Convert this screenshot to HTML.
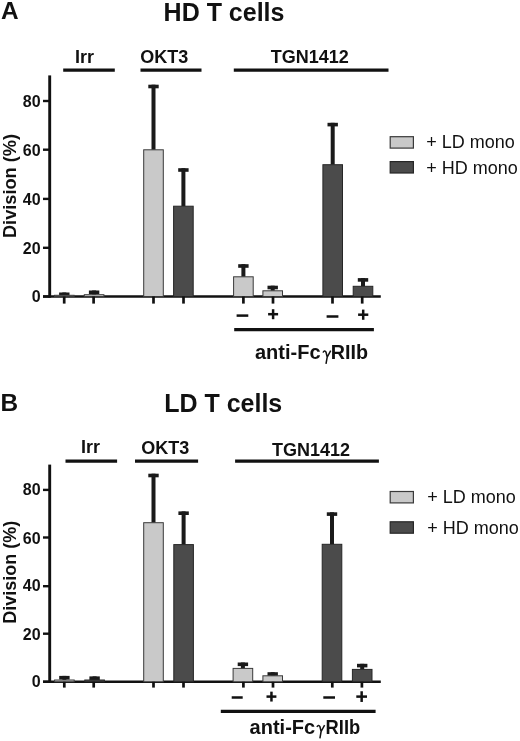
<!DOCTYPE html>
<html><head><meta charset="utf-8"><style>
html,body{margin:0;padding:0;background:#fff;width:520px;height:741px;overflow:hidden}
svg{display:block;filter:grayscale(1)}
text{font-family:"Liberation Sans",sans-serif;fill:#111}
</style></head><body>
<svg width="520" height="741" viewBox="0 0 520 741">
<text x="1" y="19.3" font-size="24.4" font-weight="bold" text-anchor="start" >A</text>
<text x="163.6" y="21.3" font-size="25" font-weight="bold" text-anchor="start" >HD T cells</text>
<text x="75.0" y="62.9" font-size="18" font-weight="bold" text-anchor="start" >Irr</text>
<text x="140.2" y="62.9" font-size="18" font-weight="bold" text-anchor="start" >OKT3</text>
<text x="270.8" y="63.2" font-size="18" font-weight="bold" text-anchor="start" >TGN1412</text>
<line x1="63.2" y1="70.2" x2="114.8" y2="70.2" stroke="#111" stroke-width="3.3"/>
<line x1="140.5" y1="70.2" x2="201.5" y2="70.2" stroke="#111" stroke-width="3.3"/>
<line x1="233.8" y1="70.2" x2="388.5" y2="70.2" stroke="#111" stroke-width="3.3"/>
<line x1="49.7" y1="75.4" x2="49.7" y2="297.7" stroke="#111" stroke-width="2.9"/>
<line x1="43" y1="296.5" x2="380.8" y2="296.5" stroke="#111" stroke-width="2.6"/>
<line x1="43" y1="296.5" x2="49.7" y2="296.5" stroke="#111" stroke-width="2.4"/>
<text x="40.6" y="302" font-size="16" font-weight="bold" text-anchor="end" >0</text>
<line x1="43" y1="247.8" x2="49.7" y2="247.8" stroke="#111" stroke-width="2.4"/>
<text x="40.6" y="254" font-size="16" font-weight="bold" text-anchor="end" >20</text>
<line x1="43" y1="198.9" x2="49.7" y2="198.9" stroke="#111" stroke-width="2.4"/>
<text x="40.6" y="205" font-size="16" font-weight="bold" text-anchor="end" >40</text>
<line x1="43" y1="149.7" x2="49.7" y2="149.7" stroke="#111" stroke-width="2.4"/>
<text x="40.6" y="155.6" font-size="16" font-weight="bold" text-anchor="end" >60</text>
<line x1="43" y1="101.0" x2="49.7" y2="101.0" stroke="#111" stroke-width="2.4"/>
<text x="40.6" y="107" font-size="16" font-weight="bold" text-anchor="end" >80</text>
<text x="0" y="0" font-size="18.2" font-weight="bold" text-anchor="middle" transform="translate(15.7,186.0) rotate(-90)">Division (%)</text>
<rect x="62.30" y="292.50" width="4.00" height="2.80" fill="#1a1a1a"/>
<rect x="59.10" y="292.50" width="10.40" height="3.60" fill="#1a1a1a"/>
<rect x="54.50" y="295.30" width="19.60" height="1.20" fill="#c9c9c9" stroke="#3a3a3a" stroke-width="1"/>
<rect x="92.10" y="290.50" width="4.00" height="4.20" fill="#1a1a1a"/>
<rect x="88.90" y="290.50" width="10.40" height="3.60" fill="#1a1a1a"/>
<rect x="84.30" y="294.70" width="19.60" height="1.80" fill="#c9c9c9" stroke="#3a3a3a" stroke-width="1"/>
<rect x="151.50" y="84.70" width="4.00" height="65.10" fill="#1a1a1a"/>
<rect x="148.30" y="84.70" width="10.40" height="3.60" fill="#1a1a1a"/>
<rect x="143.70" y="149.80" width="19.60" height="146.70" fill="#c9c9c9" stroke="#3a3a3a" stroke-width="1"/>
<rect x="181.40" y="168.20" width="4.00" height="38.00" fill="#1a1a1a"/>
<rect x="178.20" y="168.20" width="10.40" height="3.60" fill="#1a1a1a"/>
<rect x="173.60" y="206.20" width="19.60" height="90.30" fill="#4b4b4b" stroke="#262626" stroke-width="1"/>
<rect x="241.40" y="264.20" width="4.00" height="12.60" fill="#1a1a1a"/>
<rect x="238.20" y="264.20" width="10.40" height="3.60" fill="#1a1a1a"/>
<rect x="233.60" y="276.80" width="19.60" height="19.70" fill="#c9c9c9" stroke="#3a3a3a" stroke-width="1"/>
<rect x="270.70" y="285.70" width="4.00" height="5.10" fill="#1a1a1a"/>
<rect x="267.50" y="285.70" width="10.40" height="3.60" fill="#1a1a1a"/>
<rect x="262.90" y="290.80" width="19.60" height="5.70" fill="#c9c9c9" stroke="#3a3a3a" stroke-width="1"/>
<rect x="330.70" y="122.80" width="4.00" height="41.90" fill="#1a1a1a"/>
<rect x="327.50" y="122.80" width="10.40" height="3.60" fill="#1a1a1a"/>
<rect x="322.90" y="164.70" width="19.60" height="131.80" fill="#4b4b4b" stroke="#262626" stroke-width="1"/>
<rect x="361.00" y="278.10" width="4.00" height="8.20" fill="#1a1a1a"/>
<rect x="357.80" y="278.10" width="10.40" height="3.60" fill="#1a1a1a"/>
<rect x="353.20" y="286.30" width="19.60" height="10.20" fill="#4b4b4b" stroke="#262626" stroke-width="1"/>
<line x1="64.2" y1="296.5" x2="64.2" y2="303.6" stroke="#111" stroke-width="2.7"/>
<line x1="93.6" y1="296.5" x2="93.6" y2="303.6" stroke="#111" stroke-width="2.7"/>
<line x1="153.5" y1="296.5" x2="153.5" y2="303.6" stroke="#111" stroke-width="2.7"/>
<line x1="183.5" y1="296.5" x2="183.5" y2="303.6" stroke="#111" stroke-width="2.7"/>
<line x1="243.4" y1="296.5" x2="243.4" y2="303.6" stroke="#111" stroke-width="2.7"/>
<line x1="273.0" y1="296.5" x2="273.0" y2="303.6" stroke="#111" stroke-width="2.7"/>
<line x1="332.5" y1="296.5" x2="332.5" y2="303.6" stroke="#111" stroke-width="2.7"/>
<line x1="362.2" y1="296.5" x2="362.2" y2="303.6" stroke="#111" stroke-width="2.7"/>
<line x1="236.6" y1="315.6" x2="248.3" y2="315.6" stroke="#111" stroke-width="2.5"/>
<line x1="326.6" y1="316.5" x2="338.4" y2="316.5" stroke="#111" stroke-width="2.5"/>
<line x1="268.1" y1="314.2" x2="278.1" y2="314.2" stroke="#111" stroke-width="2.5"/>
<line x1="273.1" y1="309.2" x2="273.1" y2="319.2" stroke="#111" stroke-width="2.5"/>
<line x1="358.1" y1="314.7" x2="368.3" y2="314.7" stroke="#111" stroke-width="2.5"/>
<line x1="363.20000000000005" y1="309.6" x2="363.20000000000005" y2="319.79999999999995" stroke="#111" stroke-width="2.5"/>
<line x1="234.2" y1="329.6" x2="373.9" y2="329.6" stroke="#111" stroke-width="3.3"/>
<text x="255.0" y="359.4" font-size="20" font-weight="bold" text-anchor="start" >anti-Fc</text>
<text x="330.8" y="359.4" font-size="20" font-weight="bold" text-anchor="start" textLength="37.3" lengthAdjust="spacingAndGlyphs">RIIb</text>
<path d="M323.10,352.60 C323.60,350.60 325.30,350.50 326.00,352.10 L327.20,357.10 L330.70,350.70 M327.20,357.10 L326.00,363.90" fill="none" stroke="#111" stroke-width="1.5"/>
<rect x="390.20" y="136.70" width="23.20" height="11.40" fill="#c9c9c9" stroke="#3a3a3a" stroke-width="1.2"/>
<text x="426.2" y="147.7" font-size="18" font-weight="normal" text-anchor="start" >+ LD mono</text>
<rect x="390.20" y="161.60" width="23.20" height="11.40" fill="#4b4b4b" stroke="#262626" stroke-width="1.2"/>
<text x="426.2" y="173.6" font-size="18" font-weight="normal" text-anchor="start" >+ HD mono</text>
<text x="0.6" y="411.2" font-size="24.4" font-weight="bold" text-anchor="start" >B</text>
<text x="164.2" y="411.8" font-size="25" font-weight="bold" text-anchor="start" >LD T cells</text>
<text x="81.1" y="453.3" font-size="18" font-weight="bold" text-anchor="start" >Irr</text>
<text x="141.2" y="453.5" font-size="18" font-weight="bold" text-anchor="start" >OKT3</text>
<text x="272" y="455.5" font-size="18" font-weight="bold" text-anchor="start" >TGN1412</text>
<line x1="65.5" y1="461.1" x2="117.1" y2="461.1" stroke="#111" stroke-width="3.3"/>
<line x1="135" y1="461.1" x2="198.1" y2="461.1" stroke="#111" stroke-width="3.3"/>
<line x1="235.1" y1="461.1" x2="378.9" y2="461.1" stroke="#111" stroke-width="3.3"/>
<line x1="49.7" y1="464.6" x2="49.7" y2="683.0" stroke="#111" stroke-width="2.9"/>
<line x1="43" y1="681.8" x2="380.8" y2="681.8" stroke="#111" stroke-width="2.6"/>
<line x1="43" y1="681.8" x2="49.7" y2="681.8" stroke="#111" stroke-width="2.4"/>
<text x="40.6" y="687" font-size="16" font-weight="bold" text-anchor="end" >0</text>
<line x1="43" y1="633.7" x2="49.7" y2="633.7" stroke="#111" stroke-width="2.4"/>
<text x="40.6" y="640" font-size="16" font-weight="bold" text-anchor="end" >20</text>
<line x1="43" y1="586.2" x2="49.7" y2="586.2" stroke="#111" stroke-width="2.4"/>
<text x="40.6" y="591" font-size="16" font-weight="bold" text-anchor="end" >40</text>
<line x1="43" y1="537.5" x2="49.7" y2="537.5" stroke="#111" stroke-width="2.4"/>
<text x="40.6" y="544" font-size="16" font-weight="bold" text-anchor="end" >60</text>
<line x1="43" y1="489.9" x2="49.7" y2="489.9" stroke="#111" stroke-width="2.4"/>
<text x="40.6" y="495.4" font-size="16" font-weight="bold" text-anchor="end" >80</text>
<text x="0" y="0" font-size="18" font-weight="bold" text-anchor="middle" transform="translate(15.9,572.3) rotate(-90)">Division (%)</text>
<rect x="62.40" y="675.90" width="4.00" height="4.10" fill="#1a1a1a"/>
<rect x="59.20" y="675.90" width="10.40" height="3.60" fill="#1a1a1a"/>
<rect x="54.60" y="680.00" width="19.60" height="1.80" fill="#c9c9c9" stroke="#3a3a3a" stroke-width="1"/>
<rect x="92.60" y="676.40" width="4.00" height="3.60" fill="#1a1a1a"/>
<rect x="89.40" y="676.40" width="10.40" height="3.60" fill="#1a1a1a"/>
<rect x="84.80" y="680.00" width="19.60" height="1.80" fill="#4b4b4b" stroke="#262626" stroke-width="1"/>
<rect x="151.50" y="473.70" width="4.00" height="49.00" fill="#1a1a1a"/>
<rect x="148.30" y="473.70" width="10.40" height="3.60" fill="#1a1a1a"/>
<rect x="143.70" y="522.70" width="19.60" height="159.10" fill="#c9c9c9" stroke="#3a3a3a" stroke-width="1"/>
<rect x="181.60" y="511.40" width="4.00" height="33.20" fill="#1a1a1a"/>
<rect x="178.40" y="511.40" width="10.40" height="3.60" fill="#1a1a1a"/>
<rect x="173.80" y="544.60" width="19.60" height="137.20" fill="#4b4b4b" stroke="#262626" stroke-width="1"/>
<rect x="240.90" y="662.50" width="4.00" height="5.90" fill="#1a1a1a"/>
<rect x="237.70" y="662.50" width="10.40" height="3.60" fill="#1a1a1a"/>
<rect x="233.10" y="668.40" width="19.60" height="13.40" fill="#c9c9c9" stroke="#3a3a3a" stroke-width="1"/>
<rect x="270.70" y="672.20" width="4.00" height="3.60" fill="#1a1a1a"/>
<rect x="267.50" y="672.20" width="10.40" height="3.60" fill="#1a1a1a"/>
<rect x="262.90" y="675.80" width="19.60" height="6.00" fill="#c9c9c9" stroke="#3a3a3a" stroke-width="1"/>
<rect x="330.00" y="512.30" width="4.00" height="32.00" fill="#1a1a1a"/>
<rect x="326.80" y="512.30" width="10.40" height="3.60" fill="#1a1a1a"/>
<rect x="322.20" y="544.30" width="19.60" height="137.50" fill="#4b4b4b" stroke="#262626" stroke-width="1"/>
<rect x="360.20" y="663.80" width="4.00" height="5.60" fill="#1a1a1a"/>
<rect x="357.00" y="663.80" width="10.40" height="3.60" fill="#1a1a1a"/>
<rect x="352.40" y="669.40" width="19.60" height="12.40" fill="#4b4b4b" stroke="#262626" stroke-width="1"/>
<line x1="64.3" y1="681.8" x2="64.3" y2="687.5999999999999" stroke="#111" stroke-width="2.7"/>
<line x1="93.7" y1="681.8" x2="93.7" y2="687.5999999999999" stroke="#111" stroke-width="2.7"/>
<line x1="153.5" y1="681.8" x2="153.5" y2="687.5999999999999" stroke="#111" stroke-width="2.7"/>
<line x1="183.5" y1="681.8" x2="183.5" y2="687.5999999999999" stroke="#111" stroke-width="2.7"/>
<line x1="243.4" y1="681.8" x2="243.4" y2="687.5999999999999" stroke="#111" stroke-width="2.7"/>
<line x1="273.0" y1="681.8" x2="273.0" y2="687.5999999999999" stroke="#111" stroke-width="2.7"/>
<line x1="332.3" y1="681.8" x2="332.3" y2="687.5999999999999" stroke="#111" stroke-width="2.7"/>
<line x1="361.9" y1="681.8" x2="361.9" y2="687.5999999999999" stroke="#111" stroke-width="2.7"/>
<line x1="231.7" y1="697.5" x2="242.7" y2="697.5" stroke="#111" stroke-width="2.5"/>
<line x1="323.3" y1="697.5" x2="335" y2="697.5" stroke="#111" stroke-width="2.5"/>
<line x1="266.5" y1="696.6" x2="276.4" y2="696.6" stroke="#111" stroke-width="2.5"/>
<line x1="271.45" y1="691.6500000000001" x2="271.45" y2="701.55" stroke="#111" stroke-width="2.5"/>
<line x1="356.3" y1="696.6" x2="367" y2="696.6" stroke="#111" stroke-width="2.5"/>
<line x1="361.65" y1="691.25" x2="361.65" y2="701.95" stroke="#111" stroke-width="2.5"/>
<line x1="220.8" y1="711.4" x2="375.6" y2="711.4" stroke="#111" stroke-width="3.3"/>
<text x="249.6" y="733.8" font-size="20" font-weight="bold" text-anchor="start" >anti-Fc</text>
<text x="325.6" y="733.8" font-size="20" font-weight="bold" text-anchor="start" textLength="34.6" lengthAdjust="spacingAndGlyphs">RIIb</text>
<path d="M317.00,727.00 C317.50,725.00 319.20,724.90 319.90,726.50 L321.10,731.50 L324.60,725.10 M321.10,731.50 L319.90,738.30" fill="none" stroke="#111" stroke-width="1.5"/>
<rect x="390.20" y="491.50" width="23.20" height="11.40" fill="#c9c9c9" stroke="#3a3a3a" stroke-width="1.2"/>
<text x="427.2" y="502.9" font-size="18" font-weight="normal" text-anchor="start" >+ LD mono</text>
<rect x="390.20" y="521.80" width="23.20" height="11.40" fill="#4b4b4b" stroke="#262626" stroke-width="1.2"/>
<text x="427.2" y="533.6" font-size="18" font-weight="normal" text-anchor="start" >+ HD mono</text>
</svg>
</body></html>
